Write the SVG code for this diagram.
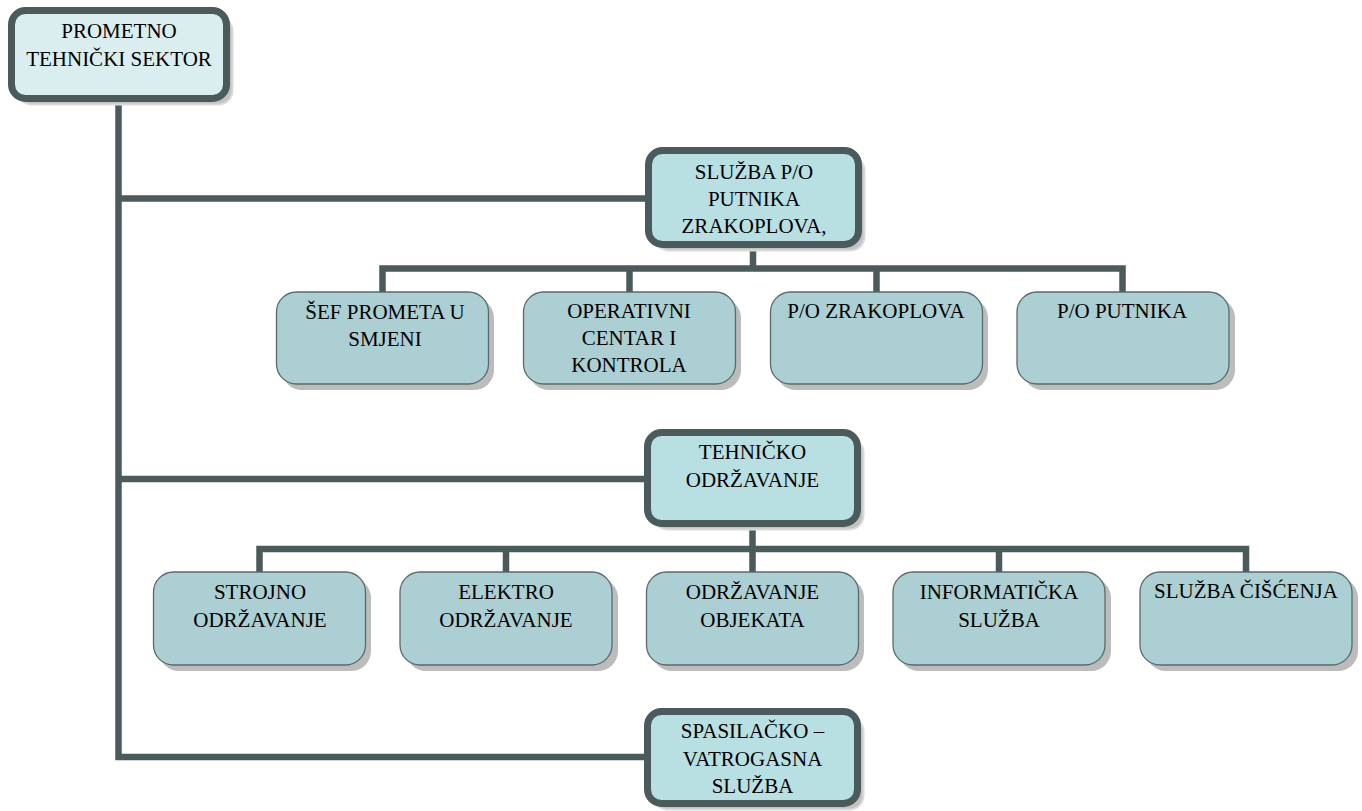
<svg xmlns="http://www.w3.org/2000/svg" width="1362" height="811" viewBox="0 0 1362 811">
<defs>
<style>
.main{fill:#b8dfe2;stroke:#4b5a5b;stroke-width:7}
.top{fill:#daeef0;stroke:#4b5a5b;stroke-width:7}
.mshadow{fill:#c2c2c2;stroke:#dadada;stroke-width:2}
.child{fill:#abcfd2;stroke:#5a6a6b;stroke-width:1.3}
.cshadow{fill:#bcbcbc}
.conn{fill:none;stroke:#4b5a5b;stroke-width:6.5;stroke-linejoin:miter;stroke-linecap:butt}
text{font-family:"Liberation Serif","Times New Roman",serif;font-size:21px;fill:#000;text-anchor:middle}
</style>
</defs>
<rect width="1362" height="811" fill="#ffffff"/>

<g id="connectors">
<path class="conn" d="M118.5 102 V757 H646"/>
<path class="conn" d="M118.5 198.5 H646"/>
<path class="conn" d="M118.5 479 H646"/>
<path class="conn" d="M753 248 V268.5"/>
<path class="conn" d="M382.5 292 V268.5 H1122.5 V292"/>
<path class="conn" d="M629.5 268.5 V292"/>
<path class="conn" d="M876.5 268.5 V292"/>
<path class="conn" d="M752.5 527 V549"/>
<path class="conn" d="M259.5 572 V549 H1246 V572"/>
<path class="conn" d="M506 549 V572"/>
<path class="conn" d="M752.5 549 V572"/>
<path class="conn" d="M999 549 V572"/>
</g>

<g id="n-prometno">
<rect class="mshadow" x="17.5" y="16.5" width="215" height="88" rx="14"/>
<rect class="top" x="11.5" y="10.5" width="215" height="88" rx="14"/>
<text x="119" y="38">PROMETNO</text>
<text x="119" y="66">TEHNIČKI SEKTOR</text>
</g>

<g id="n-sluzba-po">
<rect class="mshadow" x="654.5" y="156.5" width="210" height="94" rx="14"/>
<rect class="main" x="648.5" y="150.5" width="210" height="94" rx="14"/>
<text x="754" y="179">SLUŽBA P/O</text>
<text x="754" y="206">PUTNIKA</text>
<text x="754" y="233">ZRAKOPLOVA,</text>
</g>

<g id="n-sef">
<rect class="cshadow" x="282" y="298" width="212" height="92" rx="20"/>
<rect class="child" x="276.5" y="292" width="212" height="92" rx="20"/>
<text x="385" y="319">ŠEF PROMETA U</text>
<text x="385" y="346">SMJENI</text>
</g>

<g id="n-operativni">
<rect class="cshadow" x="529" y="298" width="212" height="92" rx="20"/>
<rect class="child" x="523.5" y="292" width="212" height="92" rx="20"/>
<text x="629" y="318">OPERATIVNI</text>
<text x="629" y="345">CENTAR I</text>
<text x="629" y="372">KONTROLA</text>
</g>

<g id="n-po-zrakoplova">
<rect class="cshadow" x="776" y="298" width="212" height="92" rx="20"/>
<rect class="child" x="770.5" y="292" width="212" height="92" rx="20"/>
<text x="876" y="318">P/O ZRAKOPLOVA</text>
</g>

<g id="n-po-putnika">
<rect class="cshadow" x="1023" y="298" width="212" height="92" rx="20"/>
<rect class="child" x="1017" y="292" width="212" height="92" rx="20"/>
<text x="1122" y="318">P/O PUTNIKA</text>
</g>

<g id="n-tehnicko">
<rect class="mshadow" x="653.5" y="438.5" width="210" height="91" rx="14"/>
<rect class="main" x="647.5" y="432.5" width="210" height="91" rx="14"/>
<text x="752.5" y="459">TEHNIČKO</text>
<text x="752.5" y="487">ODRŽAVANJE</text>
</g>

<g id="n-strojno">
<rect class="cshadow" x="159" y="578" width="212" height="93" rx="20"/>
<rect class="child" x="153.5" y="572" width="212" height="93" rx="20"/>
<text x="260" y="599">STROJNO</text>
<text x="260" y="627">ODRŽAVANJE</text>
</g>

<g id="n-elektro">
<rect class="cshadow" x="406" y="578" width="212" height="93" rx="20"/>
<rect class="child" x="400" y="572" width="212" height="93" rx="20"/>
<text x="506" y="599">ELEKTRO</text>
<text x="506" y="627">ODRŽAVANJE</text>
</g>

<g id="n-objekti">
<rect class="cshadow" x="652" y="578" width="212" height="93" rx="20"/>
<rect class="child" x="646.5" y="572" width="212" height="93" rx="20"/>
<text x="752.5" y="599">ODRŽAVANJE</text>
<text x="752.5" y="627">OBJEKATA</text>
</g>

<g id="n-informaticka">
<rect class="cshadow" x="899" y="578" width="212" height="93" rx="20"/>
<rect class="child" x="893" y="572" width="212" height="93" rx="20"/>
<text x="999" y="599">INFORMATIČKA</text>
<text x="999" y="627">SLUŽBA</text>
</g>

<g id="n-ciscenje">
<rect class="cshadow" x="1146" y="578" width="212" height="93" rx="20"/>
<rect class="child" x="1140" y="572" width="212" height="93" rx="20"/>
<text x="1246" y="598">SLUŽBA ČIŠĆENJA</text>
</g>

<g id="n-spasilacko">
<rect class="mshadow" x="653.5" y="717.5" width="210" height="92" rx="14"/>
<rect class="main" x="647.5" y="711.5" width="210" height="92" rx="14"/>
<text x="752.5" y="738">SPASILAČKO –</text>
<text x="752.5" y="766">VATROGASNA</text>
<text x="752.5" y="793">SLUŽBA</text>
</g>
</svg>
